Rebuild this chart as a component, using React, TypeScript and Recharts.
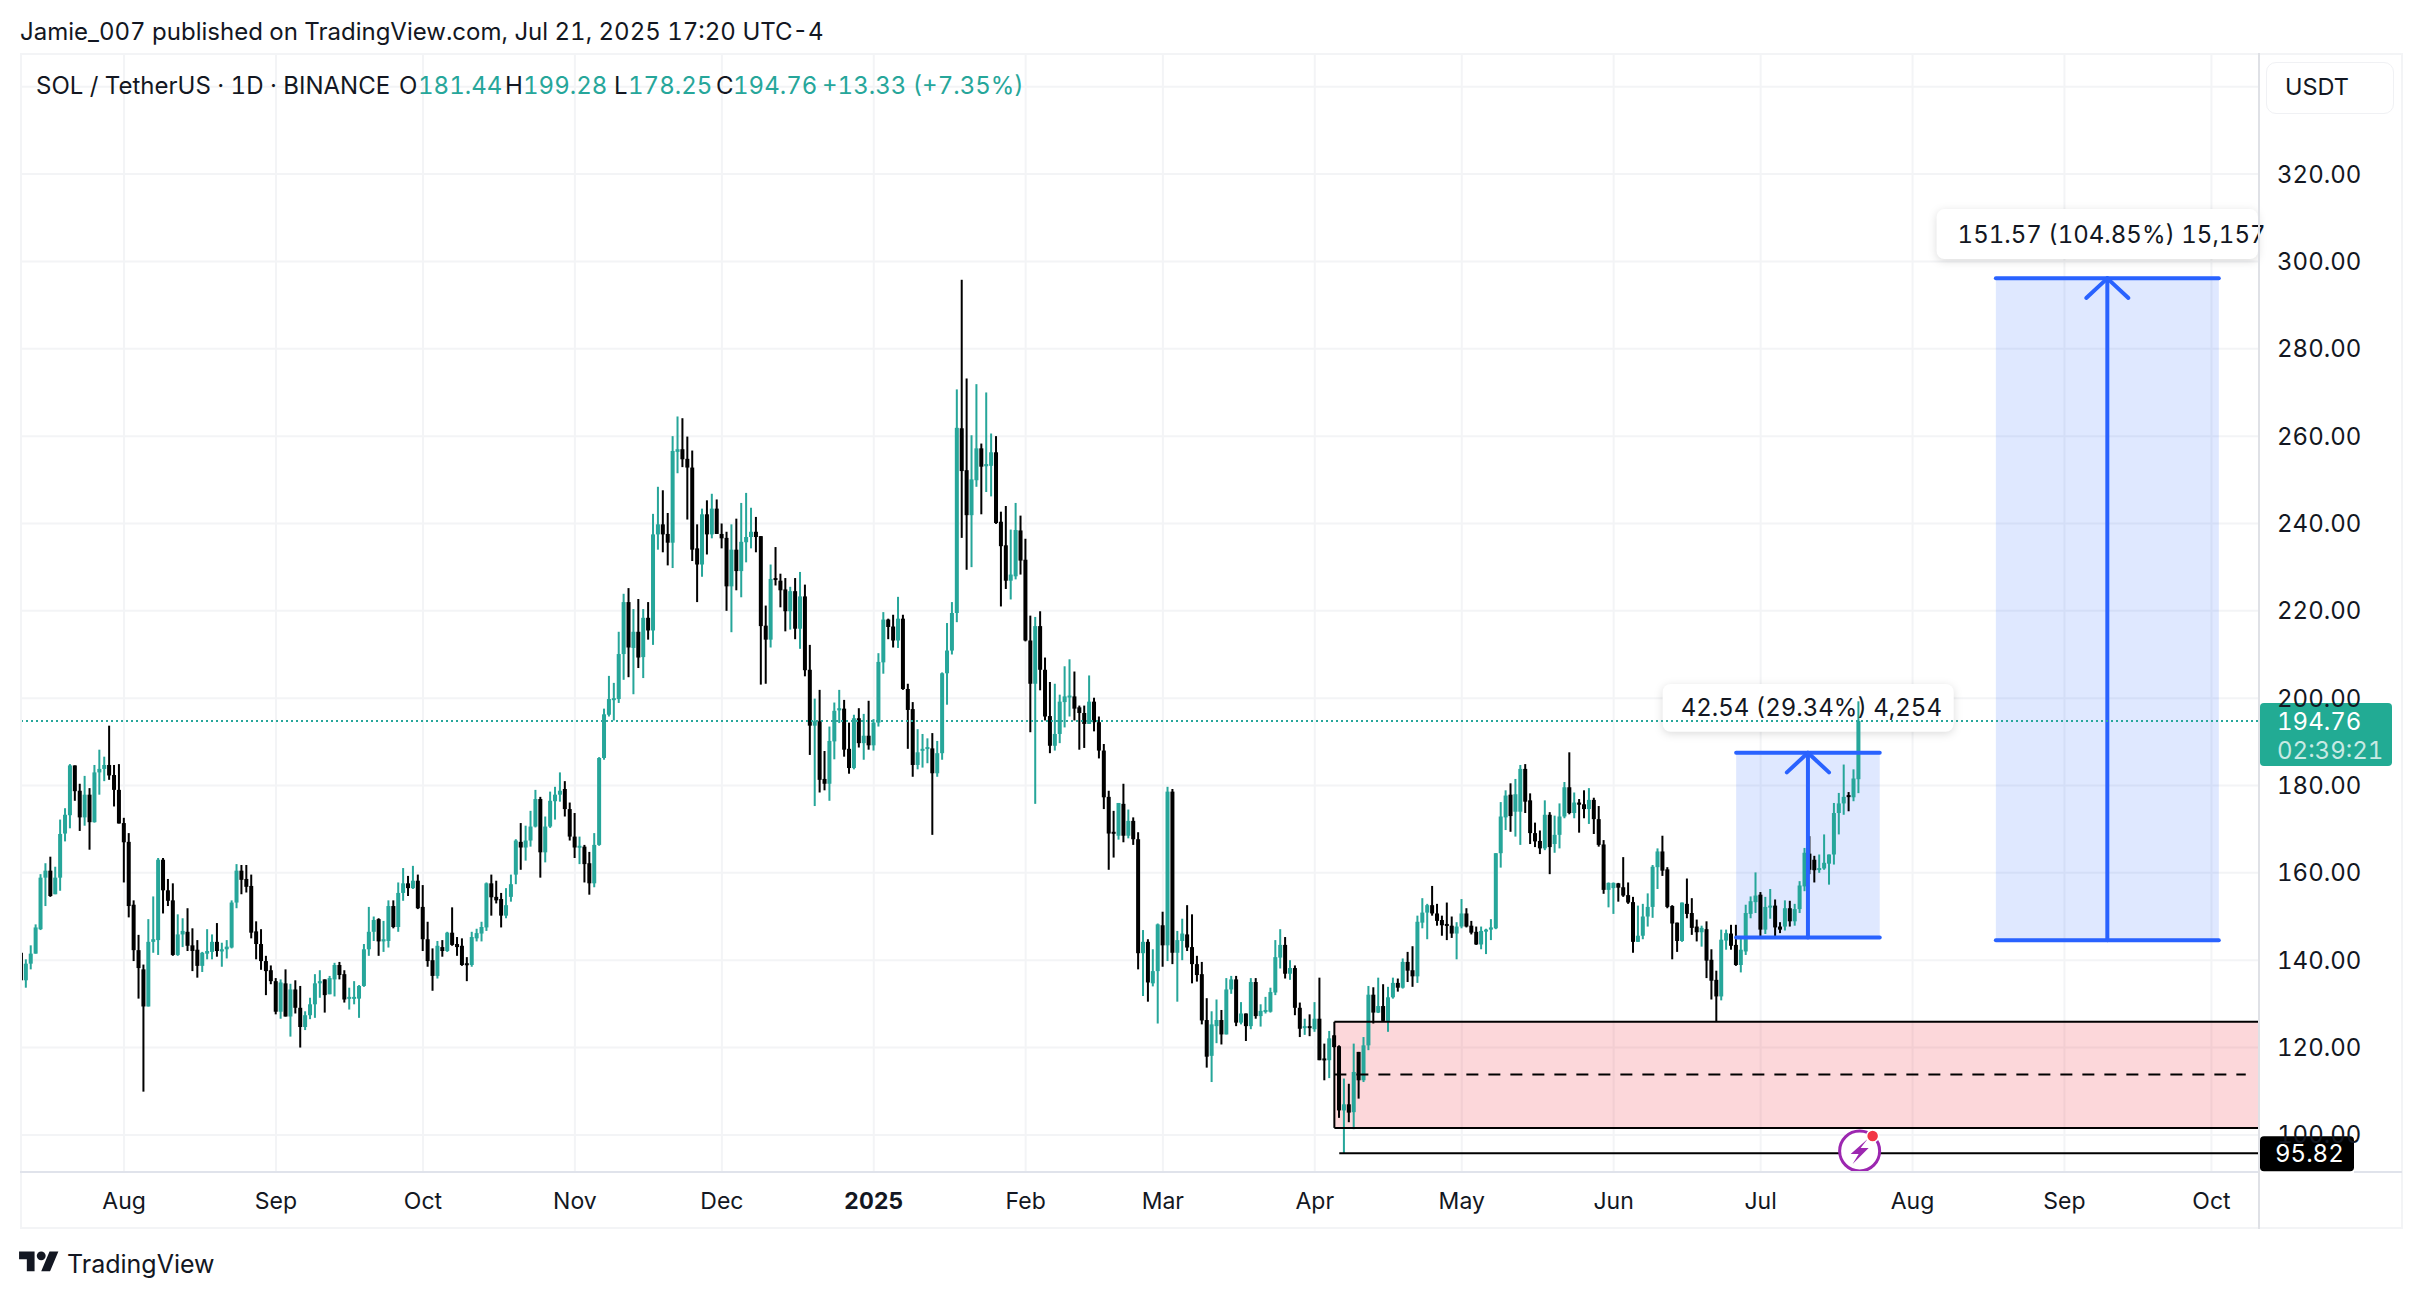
import {
  Bar,
  CartesianGrid,
  ComposedChart,
  ReferenceArea,
  ReferenceDot,
  ReferenceLine,
  XAxis,
  YAxis,
} from 'recharts';

// daily candles, 11 Jul 2024 -> 21 Jul 2025
const opens = [
  141.7,135.4,139.2,141.5,147.1,158.9,160.5,155.1,158.9,169,
  173.2,184.6,178.8,172.7,177.9,171.6,183,183.8,184.7,182.4,
  179,171.4,167.1,152.7,142.3,137.9,129.4,144.2,144.6,163,
  156,153.7,141.2,145.9,146.5,143.4,142.4,138.7,141.5,141.9,
  144.2,142,142.5,142.9,153.2,160.5,158.6,157,146.6,143.7,
  139.8,137.7,135.2,128.2,134.7,127.1,133.3,129.1,124.7,127.4,
  129.9,134.7,135.6,132.2,135.6,138.9,136.8,131.2,131.2,131.2,
  134.1,142.5,146.5,149.4,144.3,144.4,152.4,147.6,155.4,157.6,
  156.5,158.2,152.2,144.8,140,136.4,143,142.1,146.3,143.7,
  143.3,139.3,138.9,145,146.1,147.5,157.6,154.5,154,150.2,
  154.5,159.6,167.1,165.8,167.4,170.6,176.9,164.7,170.6,176.4,
  177.9,179.2,174.6,168.3,165.8,166,162.2,157.6,166.4,186.3,
  196.2,199.6,199.8,210.1,222,211.5,215.2,209.4,218.4,215.5,
  237.5,239.8,237.6,235.6,256.4,257,254.8,252.8,234.3,230.6,
  242.1,237.5,243.4,237.6,236.7,225.6,234,229.1,235.7,236.9,
  238.1,237.1,216.6,213.4,227.5,226.9,224.9,219.9,224.5,215.9,
  223.3,206.5,193.7,194.7,181.5,180.4,190.1,197.2,197.6,188.4,
  184,195.4,189.7,191.4,189.2,194.4,208.2,218,216.4,213.2,
  218.2,202.1,197.5,184.7,188,188.4,188.5,182.8,187.4,205.7,
  210.9,219.5,261.8,252.2,241.9,249.9,257.2,253.1,253.2,256.3,
  240.4,235,226.9,227.9,238.4,231.7,213.2,203.3,216.5,206.5,
  195.9,189.1,191.8,199.1,200.2,200.4,197.9,196.6,194.1,199.2,
  194.5,188,177.4,169.4,168.5,175.8,168.5,171.9,167.7,141.6,
  144.2,134.7,137.5,148,143.4,178.6,141.7,144.4,145.9,143,
  139.1,136.8,126.3,118.1,124.9,126.3,123,133.3,135.6,125.7,
  127.8,124.9,135,127.2,128.2,128.2,132.6,140.6,143.5,136.9,
  138.2,129.1,124.5,124.9,124.2,126.6,117.5,117.1,122.8,120.3,
  105.6,107,105.2,119,112.5,120.5,132.1,128,129.5,126.1,
  131.5,134.8,133.7,139.6,137.7,136.3,148.6,150.9,152.6,150.7,
  149.2,148.3,147.9,146.1,147.7,150.7,147.9,146.5,143.6,146.7,
  147,147.3,164.5,172.7,177.9,174,174,183.8,176.6,169.1,
  167.3,165.6,173.3,166.6,168.7,172.9,179.6,173.7,176.1,175.7,
  174.6,176.7,172.3,166.5,156.1,156.5,157.6,156.7,154.9,153.3,
  144.2,145.6,150,152.2,161.3,164.9,160.8,152.4,148.6,144.4,
  152.9,150.8,147.7,146.4,147.1,140.1,135.5,131.7,144.5,146.1,
  143.5,138.9,142,150.6,153.3,155,147,152.2,152.5,147.7,
  147.7,151.9,148.9,151.7,156.9,164.4,163,160.9,161,162.1,
  164.2,173.7,175.9,177.8,177.3,181.44,
];
const closes = [
  135.4,139.2,141.5,147.5,158.9,160.5,154.7,158.9,168.9,173.3,
  184.6,178.7,172.7,177.9,171.6,183,183.8,184.7,182.3,179,
  171.3,167,152.4,142.3,138.2,129.4,144.2,144.8,163,156,
  153.6,141.2,145.9,146.7,143.3,142.1,138.7,141.7,142.1,144.2,
  142.1,142.5,143.1,153.2,160.5,158.4,156.8,146.3,143.7,139.8,
  137.5,135.2,128.2,134.9,127.1,133.3,129.1,124.7,127.4,129.9,
  134.7,135.2,132,135.9,138.9,136.6,131,131.6,131.6,134.1,
  142.5,146.5,149.2,144.3,144.8,152.4,147.6,155.4,157.6,156.5,
  158.2,151.9,144.8,139.8,136.4,143.3,142.1,146.3,143.5,143,
  138.9,138.9,145.3,146.2,147.6,157.6,154.4,153.7,150.2,152.6,
  157.4,167.4,165.8,167.4,170.6,176.9,164.7,170.6,176.5,177.9,
  178.8,174.6,168.3,165.8,166.2,162,157.6,166.4,186.3,196.3,
  199.8,200,210.1,222,211.6,215.2,209.3,218.4,215.5,237.5,
  239.8,237.5,235.6,256.6,257,254.7,252.8,234,230.6,242.1,
  237.5,243.4,237.6,236.6,225.6,234,229.1,235.8,236.9,238.1,
  236.9,216.5,213.4,227.3,227.1,224.7,219.9,224.5,215.9,223.3,
  206.4,193.7,194.7,181.3,180.4,190.2,197.1,197.7,188.2,184,
  195.4,189.7,191.4,189.2,194.4,208.3,218,216.3,213.2,218.2,
  202.1,197.3,184.7,187.6,188.4,188.8,182.8,187.4,205.7,210.9,
  219.5,261.9,252,241.9,250.1,257.2,253,253.6,256.3,240.1,
  234.8,226.9,228.3,238.5,231.5,213.2,203.3,216.5,206.5,195.8,
  189.1,191.8,199.2,200.4,200.6,197.6,196.6,194.1,199.2,194.5,
  188,177.3,169,169,176,168.5,171.9,167.7,141.6,144.2,
  134.9,137.5,148.2,143.4,178.6,141.7,144.6,146.1,142.9,139.1,
  136.6,126.2,117.9,125.3,126.3,123,133.3,135.6,125.7,127.8,
  124.9,135,127.2,128.4,128.6,132.7,140.7,143.5,136.9,138.2,
  129.1,124.3,124.9,124.5,126.6,117.1,117.1,122.1,120.1,105.6,
  107,105.1,114.4,112.5,120.5,132.1,128,129.5,126.1,131.5,
  134.8,133.7,139.6,137.6,136.3,148.8,150.9,152.6,150.7,149,
  148,147.9,146.1,147.7,150.7,147.7,146.3,143.6,146.7,147,
  147.5,164.5,172.9,177.7,173,178,183.8,176.3,169.1,167.2,
  165.6,173.3,165.9,168.7,172.9,179.6,173.7,176.1,175.6,174.6,
  176.7,172.3,166.4,156.1,157.7,157.7,156.6,154.8,153.2,144.2,
  145.6,150,152.2,161.4,164.9,160.5,152.2,148.4,144.4,153.2,
  150.6,147.4,146.4,147.4,139.9,135.3,131.7,144.7,146.2,143.3,
  138.9,142.4,150.8,153.5,154.8,147,152.2,152.5,147.5,147,
  151.9,148.9,151.7,157.1,164.6,160.7,160.6,161.1,162.3,164.2,
  173.7,175.9,177.4,177.4,181.6,194.76,
];
const highs = [
  145.8,140.2,143.4,148.2,159.7,162.2,163.7,161.4,172.2,174.8,
  184.9,184.6,180.4,182.2,179.4,184.7,188.2,186.6,193.7,184.7,
  184.9,172.6,169.1,153.7,145.8,139,149.4,154.6,163.4,163.4,
  158.6,157.6,150.5,149.6,151.9,147.3,144.6,141.9,147.1,145.9,
  148.5,144,144.6,153.7,162,161.8,161.8,159.6,148.9,147.1,
  141,138.8,135.9,135.6,137.9,134.6,135.4,134.1,128.3,131.4,
  136.8,137.7,135.6,136.4,139.4,139.6,137.7,133.7,135.2,134.3,
  143.7,152.2,150,149.6,149,153.7,153.7,157.8,161.1,159.3,
  161.6,159.6,157.2,148.8,142.7,144.4,144.6,146.5,152.1,145.3,
  145,140.7,146.5,147.2,148.8,157.8,159.6,158.2,155.4,156.5,
  159.6,167.7,171.4,170.8,174.2,179,177.4,172.9,178.6,179.7,
  183,181,176.1,173.7,168.3,166.4,164.8,169.1,186.5,197.6,
  205.1,203.5,215.2,223.9,225.2,220.4,222.7,220.4,222,242.2,
  248.4,247.6,242.4,260,264.5,264.1,259.9,256.7,239.8,243.4,
  245.3,246.8,245.5,240,238.1,239.8,241.1,244.7,247,243.6,
  241.5,237.1,221.2,230.6,234.6,228.5,227.5,225.5,227.5,228.9,
  226,212.2,199.9,201.9,187.9,193.5,199,201.9,199.6,194.4,
  196.2,197.7,196.4,199.4,195.2,210.3,219.7,218.2,219.1,223.2,
  219.1,203.3,199.1,192.9,191.8,190.8,192,190.2,205.9,217.2,
  222,270.7,295.8,273.2,260.2,271.9,258.3,270,260.6,260,
  242.7,244,238.6,244.7,241.8,236.5,218.9,218.6,219.9,209.3,
  203.7,203.3,200.8,207.3,208.9,206.1,198.3,198.3,205.2,200.1,
  195.8,189.5,178.8,174.2,176,180.4,174.5,172.7,169.3,146.9,
  144.8,142.5,148.4,151.1,179.7,179.2,146.7,149.5,152.6,150.5,
  141,139.6,131.3,128.3,131,128.6,135.9,136.4,136.4,130.4,
  127.8,135.9,135.9,129.9,131.6,133.7,144.6,147.1,145.3,140,
  138.8,130.3,126.6,127.6,130.4,136,120.9,123.8,122.8,120.5,
  112.9,111.7,120.9,119,122.4,134.1,133.8,136,134.5,133.9,
  136,135.8,140.4,141.9,143.2,150.2,154.2,152.9,157,152.9,
  150.2,153.2,150,148.7,154,151.9,149,147.7,147.7,147.2,
  149.4,164.5,176.2,178.9,180.5,181.5,184.7,184.9,178.2,171.5,
  169.7,176.6,173.9,173.1,175.9,180.8,187.6,178.4,176.9,178.9,
  179.4,177.2,175.3,167.5,157.8,157.8,157.7,163.6,157.8,154.5,
  152.5,152.9,155.3,161.8,165.6,168.5,161.3,152.6,148.6,153.2,
  158.7,154.2,149.3,147.9,148.9,142.5,137.6,147,147,148.1,
  148.1,145,152.7,154.6,160.1,155.6,154.5,156.3,153.9,148.7,
  153.7,153.6,152.9,158.1,165.7,168.4,163.9,164.2,168.8,164.2,
  176,178.3,184.8,178.5,183.7,199.28,
];
const lows = [
  135.4,133.7,137.9,141.5,146.9,152.4,154.5,155.1,155.9,167.2,
  170.2,176.5,169.6,170.8,165.3,171.5,177.9,181,181.3,175.2,
  171.3,157.8,149.8,139.8,131.2,109.9,129.4,141.7,141.2,150.7,
  152.4,141,141,143,142.1,137.5,136,137.3,140.2,140.2,
  140.8,138.5,140.4,142.7,151.9,155.1,155.5,145,140.2,137.8,
  132,134.5,127.6,126.6,127.1,122.5,127.8,120,124,126.5,
  126.8,131.4,128,132.2,131.7,135.6,130.3,128.7,129.9,126.8,
  133.9,141,144.4,141,141.9,142.9,147.3,146.5,153.6,154.7,
  156.3,151.7,142.1,138.5,133,135.8,140.8,141.9,143.3,141,
  138.7,135.2,138.5,144.3,144.3,146.7,150.2,153,147.5,149.6,
  153.4,157.4,160.7,162.8,166,170.4,158.9,162.4,170.3,172.2,
  176.3,172.9,167.4,163.4,162,157.8,155,156.7,166.2,185.9,
  195.8,194.9,198.9,204.2,204.8,200.9,206.9,204.6,213.4,212.2,
  234,233.4,230.4,229.8,251.5,252.9,240.9,231.4,222,227.8,
  232.9,236.6,237.6,234.3,220,215.1,224.7,223.1,231.1,234.3,
  233.4,203.1,203.3,211.6,225.8,220.8,215.3,215.7,213.5,211.3,
  205,187,175.3,178.4,178.9,176.5,186,194.3,186.6,182.7,
  183.7,188.7,185.9,188.2,188,193.5,205.6,213.5,211.6,211.5,
  201.9,188.4,182,183.7,184.1,185.1,168.7,182,185.9,198.5,
  210,217.4,236.7,229.4,230,248.4,242.1,247.2,246.2,239.9,
  221,225,222.6,227.2,228.3,213,192.2,175.8,201.8,194.9,
  187.4,188,189.7,193.3,195.8,194.9,188.2,188.6,194.1,192.4,
  186.2,174.6,160.7,163.5,167.6,167,167.9,166.4,137.9,131.8,
  130.5,134,125.5,138.5,139.8,139.1,130.5,140,142.1,134.7,
  135.1,125.3,115.4,112.1,121,120.7,123,132.3,124.9,125.3,
  121.5,124.2,126.6,124.8,127.8,128,132,138.1,135.8,135.5,
  127.4,122.4,122.9,122.6,123.6,117.1,112.5,113,120,103.9,
  95.82,102.9,101.3,108.3,112.1,119.4,125.5,127.9,125.9,123.6,
  131.2,132.8,133.5,135,133.9,134.8,147.3,144.8,150.2,147.9,
  145.6,144.6,145.1,140.2,147.3,147.5,145.9,143.5,142.5,141.4,
  144.6,147.1,161.2,169.8,169.4,168.3,166.4,173.7,166.6,165.9,
  164.3,165.2,159.7,164.6,165.6,172.5,173.4,172.5,169.2,172.5,
  171.2,168.9,166,155.2,152.1,150.6,153.4,154.5,152.9,141.7,
  144.2,144.8,147.7,149.7,156.3,159.3,151.9,140.2,141.9,144.2,
  149.6,145.8,144.3,143.1,135.9,131,126,130.8,142.4,142.4,
  138.7,137.2,141.2,149.6,150.8,145,146,149.5,145.4,146.2,
  146.8,147.7,147.9,150.8,155.8,159.7,157.8,160,160.7,157.3,
  161.9,168.8,173.3,174.1,176.4,178.25,
];

// x axis: bar index of the first of each month
const monthTicks = [21, 52, 82, 113, 143, 174, 205, 233, 264, 294, 325, 355, 386, 417, 447];
const monthLabels = ['Aug', 'Sep', 'Oct', 'Nov', 'Dec', '2025', 'Feb', 'Mar', 'Apr', 'May', 'Jun', 'Jul', 'Aug', 'Sep', 'Oct'];
const priceTicks = [100, 120, 140, 160, 180, 200, 220, 240, 260, 280, 300, 320];
const gridPrices = [...priceTicks, 340];

const lastPrice = 194.76;
const swingLow = 95.82;

const candles = opens.map((open, i) => ({
  i,
  open,
  close: closes[i],
  high: highs[i],
  low: lows[i],
  range: [lows[i], highs[i]],
}));

const X_DOMAIN: [number, number] = [-0.24, 456.5];
const Y_DOMAIN: [number, number] = [91.5, 347.5];
const UP = '#26a69a';
const TAG = '#22ab94';
const DOWN = '#000000';
const BLUE = '#2962ff';
const INK = '#131722';
const FONT = 'Inter, sans-serif';

function Candle(props: any) {
  const { x, y, width, height, payload } = props;
  const { open, close, high, low } = payload;
  const color = close >= open ? UP : DOWN;
  const cx = x + width / 2;
  const perUnit = Math.abs(height) / (high - low);
  const top = Math.min(y, y + height);
  const bodyTop = top + (high - Math.max(open, close)) * perUnit;
  const bodyH = Math.max(Math.abs(open - close) * perUnit, 2);
  return (
    <g>
      <rect x={cx - 1} y={top} width={2} height={Math.abs(height)} fill={color} />
      <rect x={cx - 2} y={bodyTop} width={4} height={bodyH} fill={color} />
    </g>
  );
}

function MonthTick(props: any) {
  const { x, y, index } = props;
  const label = monthLabels[index];
  return (
    <text
      x={x}
      y={y}
      dy={29}
      textAnchor="middle"
      fontFamily={FONT}
      fontSize={23}
      fontWeight={label === '2025' ? 700 : 400}
      fill={INK}
    >
      {label}
    </text>
  );
}

function LastPriceTag(props: any) {
  const { viewBox } = props;
  const left = viewBox.x + viewBox.width + 2;
  return (
    <g fontFamily={FONT} fontSize={24}>
      <rect x={left} y={viewBox.y - 18} width={132} height={63} rx={4} fill={TAG} />
      <text x={left + 17} y={viewBox.y + 9} fill="#ffffff">194.76</text>
      <text x={left + 17} y={viewBox.y + 38} fill="#ffffff" fillOpacity={0.75}>02:39:21</text>
    </g>
  );
}

function LowPriceTag(props: any) {
  const { viewBox } = props;
  const left = viewBox.x + viewBox.width + 2;
  return (
    <g fontFamily={FONT} fontSize={24}>
      <rect x={left} y={viewBox.y - 17} width={94} height={35} rx={4} fill="#000000" />
      <text x={left + 15} y={viewBox.y + 9} fill="#ffffff">95.82</text>
    </g>
  );
}

function BoltBadge(props: any) {
  const { cx, cy } = props;
  return (
    <g>
      <circle cx={cx} cy={cy} r={20} fill="#ffffff" stroke="#9c27b0" strokeWidth={3} />
      <path
        d={`M${cx + 8} ${cy - 12} L${cx - 9} ${cy + 3} L${cx - 1} ${cy + 3} L${cx - 7} ${cy + 13} L${cx + 9} ${cy - 3} L${cx + 1} ${cy - 3} Z`}
        fill="#9c27b0"
      />
      <circle cx={cx + 13} cy={cy - 15} r={6} fill="#f23645" stroke="#ffffff" strokeWidth={1.5} />
    </g>
  );
}

// measure tool: box + arrow + the two flat caps
function measureTool(left: number, right: number, bottom: number, top: number) {
  const mid = (left + right) / 2;
  const lineProps = { stroke: BLUE, strokeWidth: 4, strokeLinecap: 'round' as const };
  return [
    <ReferenceArea key="box" x1={left} x2={right} y1={bottom} y2={top} fill={BLUE} fillOpacity={0.15} stroke="none" />,
    <ReferenceLine key="top" segment={[{ x: left, y: top }, { x: right, y: top }]} {...lineProps} />,
    <ReferenceLine key="bot" segment={[{ x: left, y: bottom }, { x: right, y: bottom }]} {...lineProps} />,
    <ReferenceLine key="stem" segment={[{ x: mid, y: bottom }, { x: mid, y: top }]} {...lineProps} />,
    <ReferenceLine key="headL" segment={[{ x: mid - 4.3, y: top - 4.5 }, { x: mid, y: top }]} {...lineProps} />,
    <ReferenceLine key="headR" segment={[{ x: mid + 4.3, y: top - 4.5 }, { x: mid, y: top }]} {...lineProps} />,
  ];
}

function Txt({ x, y, color = INK, size = 24, children }: any) {
  return (
    <div
      style={{
        position: 'absolute',
        left: x,
        top: y,
        transform: 'translateY(-50%)',
        color,
        fontSize: size,
        fontFamily: FONT,
        whiteSpace: 'nowrap',
        lineHeight: 1,
      }}
    >
      {children}
    </div>
  );
}

function Line({ x, y, w, h, color }: any) {
  return <div style={{ position: 'absolute', left: x, top: y, width: w, height: h, background: color }} />;
}

export default function App() {
  return (
    <div
      style={{
        position: 'absolute',
        left: 0,
        top: 0,
        width: 2422,
        height: 1298,
        background: '#fff',
        overflow: 'hidden',
        fontVariantNumeric: 'tabular-nums',
      }}
    >
      <ComposedChart
        width={2422}
        height={1298}
        data={candles}
        margin={{ top: 54, left: 20, right: 20, bottom: 70 }}
        style={{ position: 'absolute', left: 0, top: 0 }}
      >
        <CartesianGrid
          stroke="#f3f4f6"
          strokeWidth={2}
          horizontalValues={gridPrices}
          verticalValues={monthTicks}
        />
        <XAxis
          dataKey="i"
          type="number"
          domain={X_DOMAIN}
          allowDataOverflow
          ticks={monthTicks}
          interval={0}
          height={56}
          axisLine={false}
          tickLine={false}
          tick={<MonthTick />}
        />
        <YAxis
          orientation="right"
          domain={Y_DOMAIN}
          allowDataOverflow
          ticks={priceTicks}
          interval={0}
          width={144}
          axisLine={false}
          tickLine={false}
          tickMargin={13}
          tickFormatter={(v: number) => v.toFixed(2)}
          tick={{ fontFamily: FONT, fontSize: 24, fill: INK }}
        />

        <ReferenceArea
          x1={335}
          x2={394.4}
          y1={192.3}
          y2={203.25}
          fill="#ffffff"
          fillOpacity={1}
          stroke="none"
          radius={8}
          style={{ filter: 'drop-shadow(0 2px 4px rgba(0,0,0,0.14))' }}
          label={{ value: '42.54 (29.34%) 4,254', position: 'insideLeft', offset: 18, fontSize: 24, fontFamily: FONT, fill: INK }}
        />
        <ReferenceArea
          x1={390.9}
          x2={456.5}
          y1={300.55}
          y2={312}
          fill="#ffffff"
          fillOpacity={1}
          stroke="none"
          radius={8}
          style={{ filter: 'drop-shadow(0 2px 4px rgba(0,0,0,0.14))' }}
          label={{ value: '151.57 (104.85%) 15,157', position: 'insideLeft', offset: 21, fontSize: 24, fontFamily: FONT, fill: INK }}
        />

        <ReferenceArea x1={268} x2={456.5} y1={101.6} y2={125.9} fill="#f23645" fillOpacity={0.2} stroke="none" />
        {measureTool(350, 379.3, 145.2, 187.5)}
        {measureTool(403, 448.5, 144.56, 296.13)}

        <Bar dataKey="range" barSize={5} shape={<Candle />} isAnimationActive={false} />

        <ReferenceLine segment={[{ x: 268, y: 125.9 }, { x: 456.5, y: 125.9 }]} stroke="#000" strokeWidth={2} />
        <ReferenceLine segment={[{ x: 268, y: 101.6 }, { x: 456.5, y: 101.6 }]} stroke="#000" strokeWidth={2} />
        <ReferenceLine segment={[{ x: 268, y: 101.6 }, { x: 268, y: 125.9 }]} stroke="#000" strokeWidth={2} />
        <ReferenceLine segment={[{ x: 268, y: 113.8 }, { x: 454, y: 113.8 }]} stroke="#000" strokeWidth={2} strokeDasharray="12 10" />
        <ReferenceLine segment={[{ x: 269, y: swingLow }, { x: 456.5, y: swingLow }]} stroke="#000" strokeWidth={2} />

        <ReferenceLine y={lastPrice} stroke={UP} strokeWidth={2} strokeDasharray="2 3" label={<LastPriceTag />} />
        <ReferenceLine y={swingLow} stroke="none" label={<LowPriceTag />} />
        <ReferenceDot x={375.2} y={96.3} r={20} shape={<BoltBadge />} />
      </ComposedChart>

      {/* frame */}
      <Line x={20} y={53} w={2382} h={2} color="#f3f4f6" />
      <Line x={20} y={53} w={2} h={1176} color="#f3f4f6" />
      <Line x={2401} y={53} w={2} h={1176} color="#f3f4f6" />
      <Line x={20} y={1227} w={2382} h={2} color="#f3f4f6" />
      <Line x={20} y={1171} w={2240} h={2} color="#e0e3eb" />
      <Line x={2354} y={1171} w={48} h={2} color="#e0e3eb" />
      <Line x={2258} y={53} w={2} h={1176} color="#dfe1e6" />

      <Txt x={20} y={32}>Jamie_007 published on TradingView.com, Jul 21, 2025 17:20 UTC-4</Txt>

      <Txt x={36} y={86}>SOL / TetherUS · 1D · BINANCE</Txt>
      <Txt x={399} y={86}>O</Txt>
      <Txt x={418} y={86} color={UP}>181.44</Txt>
      <Txt x={505} y={86}>H</Txt>
      <Txt x={523} y={86} color={UP}>199.28</Txt>
      <Txt x={614} y={86}>L</Txt>
      <Txt x={628} y={86} color={UP}>178.25</Txt>
      <Txt x={716} y={86}>C</Txt>
      <Txt x={733} y={86} color={UP}>194.76</Txt>
      <Txt x={822} y={86} color={UP}>+13.33 (+7.35%)</Txt>

      <div
        style={{
          position: 'absolute',
          left: 2266,
          top: 62,
          width: 128,
          height: 52,
          border: '1px solid #f0f1f4',
          borderRadius: 10,
          boxSizing: 'border-box',
        }}
      />
      <Txt x={2285} y={87} size={23.5}>USDT</Txt>

      <svg
        width={40}
        height={31}
        viewBox="0 0 36 28"
        style={{ position: 'absolute', left: 19, top: 1247 }}
      >
        <path d="M14 22H7V11H0V4h14v18zM28 22h-8l7.5-18h8L28 22z" fill="#131722" />
        <circle cx={20} cy={8} r={4} fill="#131722" />
      </svg>
      <Txt x={67} y={1264} size={25}>TradingView</Txt>
    </div>
  );
}
